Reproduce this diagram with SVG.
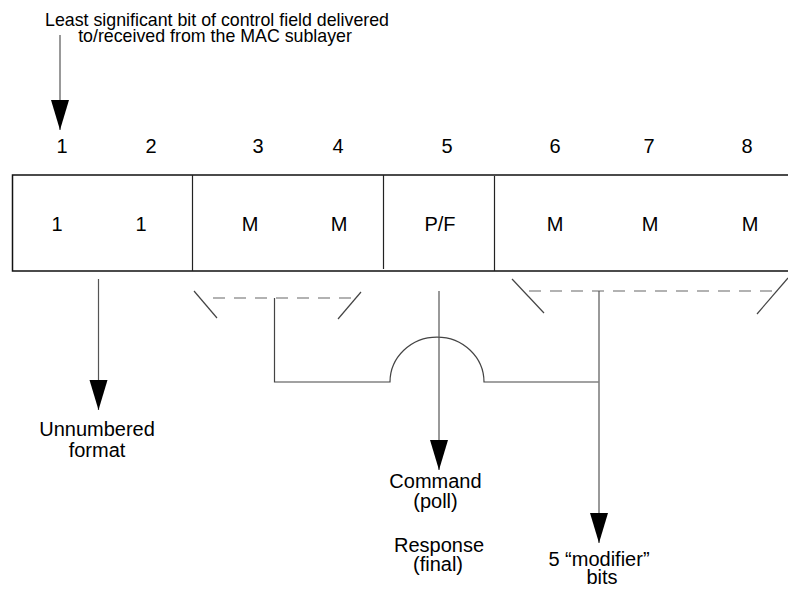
<svg xmlns="http://www.w3.org/2000/svg" width="788" height="590" viewBox="0 0 788 590">
<style>
text{font-family:"Liberation Sans",Arial,sans-serif;fill:#000}
.t{font-size:17.8px}
.n{font-size:20px;text-anchor:middle}
.box{stroke:#111;stroke-width:1.5;fill:none}
.div{stroke:#222;stroke-width:1.2}
.ln{stroke:#444;stroke-width:1.2;fill:none}
.dash{stroke:#666;stroke-width:1.2;stroke-dasharray:12 9;fill:none}
.arr{stroke:#555;stroke-width:1.2;fill:none;marker-end:url(#ah)}
</style>
<defs>
<marker id="ah" markerUnits="userSpaceOnUse" markerWidth="31" markerHeight="20" refX="30" refY="9" orient="auto" viewBox="0 0 31 20">
<path d="M0,0 L30,9 L0,18 Z" fill="#000"/>
</marker>
</defs>
<g id="title">
<text class="t" x="217" y="26" text-anchor="middle">Least significant bit of control field delivered</text>
<text class="t" x="215" y="42" text-anchor="middle">to/received from the MAC sublayer</text>
</g>
<g id="bitnumbers">
<text class="n" x="62" y="153">1</text>
<text class="n" x="151" y="153">2</text>
<text class="n" x="258" y="153">3</text>
<text class="n" x="338" y="153">4</text>
<text class="n" x="447" y="153">5</text>
<text class="n" x="555" y="153">6</text>
<text class="n" x="649" y="153">7</text>
<text class="n" x="747" y="153">8</text>
</g>
<g id="field">
<path class="box" d="M788,175 H12.5 V271 H788"/>
<line class="div" x1="192.5" y1="175" x2="192.5" y2="271"/>
<line class="div" x1="383.5" y1="175" x2="383.5" y2="269"/>
<line class="div" x1="494.5" y1="176" x2="494.5" y2="271"/>
<text class="n" x="57" y="231">1</text>
<text class="n" x="141" y="231">1</text>
<text class="n" x="250" y="231">M</text>
<text class="n" x="339" y="231">M</text>
<text class="n" x="440" y="231">P/F</text>
<text class="n" x="555" y="231">M</text>
<text class="n" x="650" y="231">M</text>
<text class="n" x="750" y="231">M</text>
</g>
<g id="connectors">
<line class="arr" x1="60" y1="35" x2="60" y2="130"/>
<line class="arr" x1="98.5" y1="279" x2="98.5" y2="410"/>
<line class="ln" x1="194" y1="291" x2="217" y2="318"/>
<line class="dash" x1="213" y1="298" x2="356" y2="298"/>
<line class="ln" x1="361" y1="292" x2="338" y2="319"/>
<path class="ln" d="M274.5,298 V382 H390 A47,45 0 0 1 484,382 H598.5"/>
<line class="arr" x1="439" y1="291" x2="439" y2="470"/>
<line class="ln" x1="512" y1="279" x2="544" y2="313"/>
<line class="dash" x1="529" y1="291" x2="774" y2="291"/>
<line class="ln" x1="788" y1="278" x2="757" y2="314"/>
<line class="arr" x1="599" y1="291" x2="599" y2="543"/>
</g>
<g id="label-unnumbered">
<text class="n" x="97" y="436">Unnumbered</text>
<text class="n" x="97" y="457">format</text>
</g>
<g id="label-pf">
<text class="n" x="435.5" y="488">Command</text>
<text class="n" x="435.5" y="508">(poll)</text>
<text class="n" x="439" y="552">Response</text>
<text class="n" x="438" y="571">(final)</text>
</g>
<g id="label-modifier">
<text class="n" x="599" y="566">5 “modifier”</text>
<text class="n" x="602" y="584">bits</text>
</g>
</svg>
